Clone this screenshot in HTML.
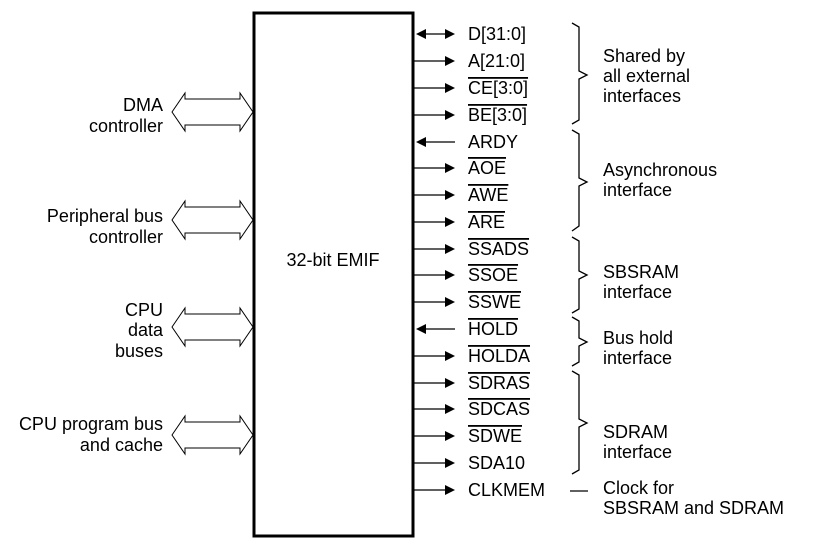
<!DOCTYPE html>
<html><head><meta charset="utf-8"><style>
html,body{margin:0;padding:0;background:#fff}
svg{display:block}
text{font-family:"Liberation Sans",Arial,sans-serif;font-size:18px;fill:#000}
.o{text-decoration:overline}
</style></head><body>
<svg width="813" height="555" viewBox="0 0 813 555" xmlns="http://www.w3.org/2000/svg">
<rect x="254" y="13" width="159" height="523" fill="none" stroke="#000" stroke-width="3"/>
<text x="333" y="266" text-anchor="middle">32-bit EMIF</text>
<g fill="#fff" stroke="#000" stroke-width="1">
<path d="M172,112 L185,93 L185,99 L240,99 L240,93 L253,112 L240,131 L240,125 L185,125 L185,131 Z"/>
<path d="M172,220 L185,201 L185,207 L240,207 L240,201 L253,220 L240,239 L240,233 L185,233 L185,239 Z"/>
<path d="M172,327 L185,308 L185,314 L240,314 L240,308 L253,327 L240,346 L240,340 L185,340 L185,346 Z"/>
<path d="M172,435 L185,416 L185,422 L240,422 L240,416 L253,435 L240,454 L240,448 L185,448 L185,454 Z"/>
</g>
<g text-anchor="end">
<text x="163" y="111">DMA</text><text x="163" y="132">controller</text>
<text x="163" y="222">Peripheral bus</text><text x="163" y="243">controller</text>
<text x="163" y="316">CPU</text><text x="163" y="336">data</text><text x="163" y="357">buses</text>
<text x="163" y="430">CPU program bus</text><text x="163" y="451">and cache</text>
</g>
<g stroke="#000" stroke-width="1.2">
<line x1="420" y1="34" x2="450" y2="34"/>
<line x1="414" y1="61" x2="450" y2="61"/><line x1="414" y1="88" x2="450" y2="88"/><line x1="414" y1="115" x2="450" y2="115"/>
<line x1="420" y1="142" x2="455" y2="142"/>
<line x1="414" y1="168" x2="450" y2="168"/><line x1="414" y1="195" x2="450" y2="195"/><line x1="414" y1="222" x2="450" y2="222"/>
<line x1="414" y1="249" x2="450" y2="249"/><line x1="414" y1="275" x2="450" y2="275"/><line x1="414" y1="302" x2="450" y2="302"/>
<line x1="420" y1="329" x2="455" y2="329"/>
<line x1="414" y1="356" x2="450" y2="356"/><line x1="414" y1="383" x2="450" y2="383"/><line x1="414" y1="409" x2="450" y2="409"/>
<line x1="414" y1="436" x2="450" y2="436"/><line x1="414" y1="463" x2="450" y2="463"/><line x1="414" y1="490" x2="450" y2="490"/>
<line x1="570" y1="491" x2="588" y2="491"/>
</g>
<g fill="#000">
<path d="M416,34 L426,29 L426,39Z"/>
<path d="M455,34 L445,29 L445,39Z"/><path d="M455,61 L445,56 L445,66Z"/><path d="M455,88 L445,83 L445,93Z"/><path d="M455,115 L445,110 L445,120Z"/>
<path d="M416,142 L426,137 L426,147Z"/>
<path d="M455,168 L445,163 L445,173Z"/><path d="M455,195 L445,190 L445,200Z"/><path d="M455,222 L445,217 L445,227Z"/>
<path d="M455,249 L445,244 L445,254Z"/><path d="M455,275 L445,270 L445,280Z"/><path d="M455,302 L445,297 L445,307Z"/>
<path d="M416,329 L426,324 L426,334Z"/>
<path d="M455,356 L445,351 L445,361Z"/><path d="M455,383 L445,378 L445,388Z"/><path d="M455,409 L445,404 L445,414Z"/>
<path d="M455,436 L445,431 L445,441Z"/><path d="M455,463 L445,458 L445,468Z"/><path d="M455,490 L445,485 L445,495Z"/>
</g>
<g>
<text x="468" y="40">D[31:0]</text>
<text x="468" y="67">A[21:0]</text>
<text x="468" y="94" class="o">CE[3:0]</text>
<text x="468" y="121" class="o">BE[3:0]</text>
<text x="468" y="148">ARDY</text>
<text x="468" y="174" class="o">AOE</text>
<text x="468" y="201" class="o">AWE</text>
<text x="468" y="228" class="o">ARE</text>
<text x="468" y="255" class="o">SSADS</text>
<text x="468" y="281" class="o">SSOE</text>
<text x="468" y="308" class="o">SSWE</text>
<text x="468" y="335" class="o">HOLD</text>
<text x="468" y="362" class="o">HOLDA</text>
<text x="468" y="389" class="o">SDRAS</text>
<text x="468" y="415" class="o">SDCAS</text>
<text x="468" y="442" class="o">SDWE</text>
<text x="468" y="469">SDA10</text>
<text x="468" y="496">CLKMEM</text>
</g>
<g fill="none" stroke="#000" stroke-width="1.3">
<path d="M572,23 L579,27 L579,71 L587,75 L579,79 L579,120 L572,124"/>
<path d="M572,130 L579,134 L579,178 L587,182 L579,186 L579,226 L572,231"/>
<path d="M572,237 L579,241 L579,271 L587,275 L579,279 L579,309 L572,313"/>
<path d="M572,317 L579,321 L579,338 L587,342 L579,346 L579,362 L572,366"/>
<path d="M572,371 L579,375 L579,419 L587,423 L579,427 L579,470 L572,474"/>
</g>
<g>
<text x="603" y="62">Shared by</text><text x="603" y="82">all external</text><text x="603" y="102">interfaces</text>
<text x="603" y="176">Asynchronous</text><text x="603" y="196">interface</text>
<text x="603" y="278">SBSRAM</text><text x="603" y="298">interface</text>
<text x="603" y="344">Bus hold</text><text x="603" y="364">interface</text>
<text x="603" y="438">SDRAM</text><text x="603" y="458">interface</text>
<text x="603" y="494">Clock for</text><text x="603" y="514">SBSRAM and SDRAM</text>
</g>
</svg>
</body></html>
